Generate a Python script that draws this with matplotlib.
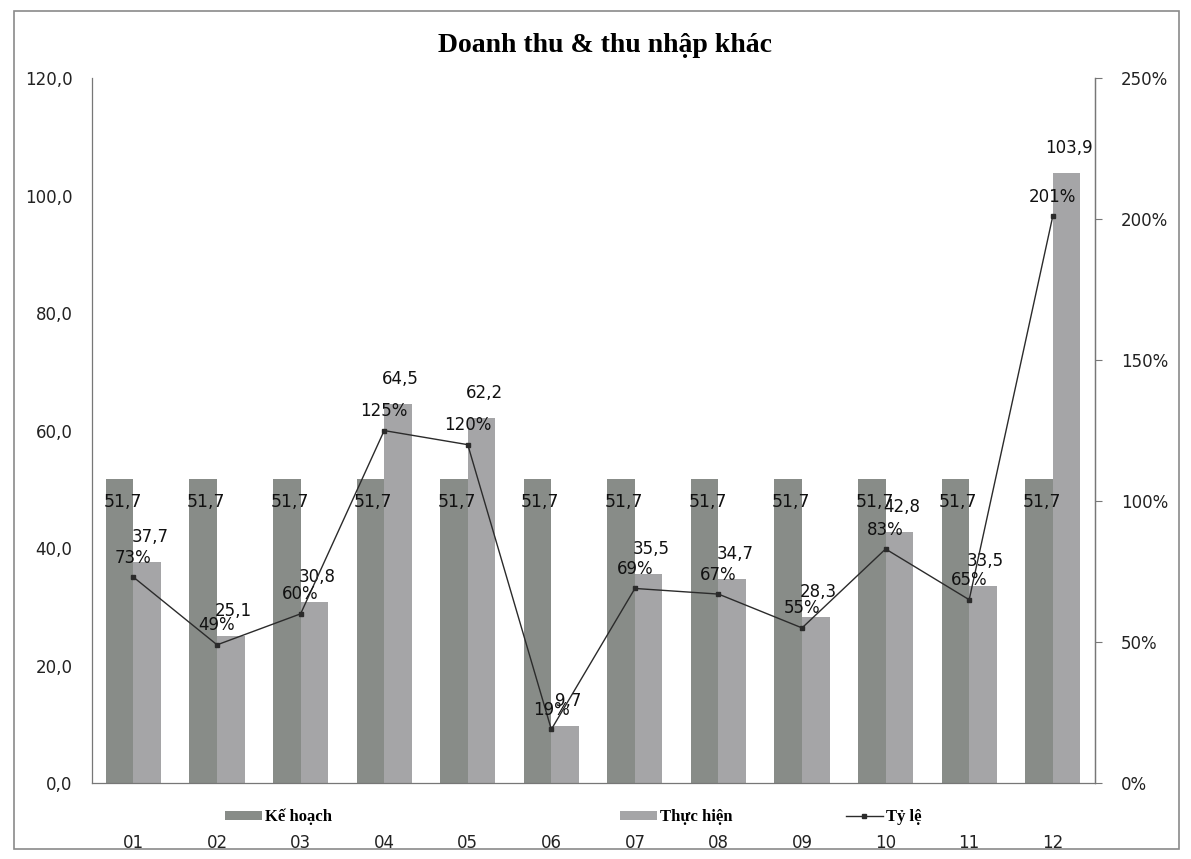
import matplotlib.pyplot as plt
from matplotlib.patches import Rectangle
from matplotlib.ticker import FuncFormatter
import numpy as np

# Dữ liệu
thang = ['01', '02', '03', '04', '05', '06', '07', '08', '09', '10', '11', '12']
ke_hoach = [51.7] * 12
thuc_hien = [37.7, 25.1, 30.8, 64.5, 62.2, 9.7, 35.5, 34.7, 28.3, 42.8, 33.5, 103.9]
ty_le = [73, 49, 60, 125, 120, 19, 69, 67, 55, 83, 65, 201]

mau_kh = '#888c88'
mau_th = '#a5a5a7'
mau_line = '#2b2b2b'


def so_vn(v):
    # dấu phẩy thập phân kiểu Việt Nam
    return f"{v:.1f}".replace('.', ',')


fig = plt.figure(figsize=(11.91, 8.59), dpi=100)
ax = fig.add_axes([0.077, 0.0885, 0.842, 0.8205])
ax2 = ax.twinx()

x = np.arange(len(thang))
w = 0.33
b1 = ax.bar(x - w / 2, ke_hoach, w, color=mau_kh, label='Kế hoạch', zorder=2)
b2 = ax.bar(x + w / 2, thuc_hien, w, color=mau_th, label='Thực hiện', zorder=2)

ty_le_frac = [v / 100 for v in ty_le]
ln, = ax2.plot(x, ty_le_frac, color=mau_line, lw=1.0, marker='s', ms=3,
               label='Tỷ lệ', zorder=3)

ax.set_xlim(-0.5, 11.5)
ax.set_ylim(0, 120)
ax2.set_ylim(0, 2.5)
ax.set_yticks(np.arange(0, 121, 20))
ax.yaxis.set_major_formatter(FuncFormatter(lambda v, p: so_vn(v)))
ax2.set_yticks(np.arange(0, 2.51, 0.5))
ax2.yaxis.set_major_formatter(FuncFormatter(lambda v, p: f"{int(round(v * 100))}%"))

ax.set_xticks(x)
ax.set_xticklabels(thang)
ax.tick_params(axis='x', length=0, pad=37, labelsize=12, colors='#222222')
ax.tick_params(axis='y', length=0, pad=14, labelsize=12, colors='#222222')
ax2.tick_params(axis='y', length=5, width=0.8, color='#777777', pad=14,
                labelsize=12, labelcolor='#222222')

for a in (ax, ax2):
    a.spines['top'].set_visible(False)
    for s in ('left', 'right', 'bottom'):
        a.spines[s].set_color('#777777')
        a.spines[s].set_linewidth(0.9)
ax2.spines['left'].set_visible(False)
ax2.spines['bottom'].set_visible(False)

# Nhãn dữ liệu
for xi, v in zip(x, ke_hoach):
    ax.annotate(so_vn(v), (xi - w / 2, v), xytext=(2, -16), textcoords='offset points',
                ha='center', va='center', fontsize=12.5, color='#111111', zorder=5)
for xi, v in zip(x, thuc_hien):
    ax.annotate(so_vn(v), (xi + w / 2, v), xytext=(2, 18), textcoords='offset points',
                ha='center', va='center', fontsize=12, color='#111111', zorder=5)
for xi, v, t in zip(x, ty_le_frac, ty_le):
    ax2.annotate(f"{t}%", (xi, v), xytext=(0, 14), textcoords='offset points',
                 ha='center', va='center', fontsize=12, color='#111111', zorder=5)

fig.text(0.508, 0.947, 'Doanh thu & thu nhập khác', ha='center', va='center',
         fontsize=20, fontweight='bold', family='Liberation Serif')

# chú thích: mỗi mục một vị trí riêng như bản gốc
font_leg = {'family': 'Liberation Serif', 'weight': 'bold', 'size': 12}
for h, nhan, x0 in [(b1, 'Kế hoạch', 225), (b2, 'Thực hiện', 620), (ln, 'Tỷ lệ', 846)]:
    fig.legend([h], [nhan], loc='center left', bbox_to_anchor=(x0 / 1191, 1 - 817 / 859),
               frameon=False, handlelength=2.2, handleheight=0.45, handletextpad=0.2,
               borderaxespad=0, borderpad=0, prop=font_leg)

# khung viền ngoài
fig.patches.append(Rectangle((0.012, 0.012), 0.978, 0.975, transform=fig.transFigure,
                             fill=False, edgecolor='#8a8a8a', lw=1.2))

plt.savefig('out.png', dpi=100)
plt.close()
